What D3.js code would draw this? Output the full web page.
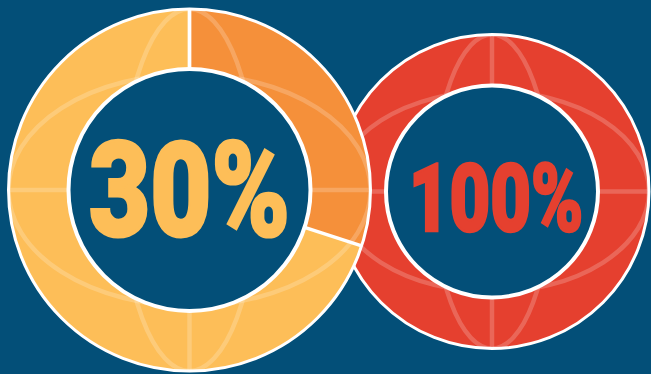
<!DOCTYPE html>
<html>
<head>
<meta charset="utf-8">
<script src="https://cdn.jsdelivr.net/npm/d3@7"></script>
<style>
  html, body { margin: 0; padding: 0; background: #034f78; }
  svg { display: block; }
</style>
</head>
<body>
<div id="chart-container"></div>
<script>
'use strict';

// data
const labels = ['30%', '100%'];
const shares = [30, 100];

// layout + style (right donut first so the left one sits on top)
const width = 651, height = 374;
const layout = [
  { cx: 189.5, cy: 190, outer: 181, inner: 121, textW: 197, cap: 100, base: 239, tx: 189.5, bold: 3.2 },
  { cx: 492, cy: 191.5, outer: 157, inner: 106, textW: 168, cap: 71, base: 233, tx: 496, bold: 2.6 }
];
const colours = [['#f5903a', '#fdbe58'], ['#e5402f', '#e5402f']];
const textColours = ['#fdbe58', '#e5402f'];
const fontFamily = 'Roboto, "DejaVu Sans", sans-serif';

var svg = d3.select('#chart-container')
  .append('svg')
  .attr('width', width)
  .attr('height', height);

svg.append('rect')
  .attr('width', width)
  .attr('height', height)
  .attr('fill', '#034f78');

var pie = d3.pie()
  .value(function(d) { return d; })
  .sort(null);

// measure real glyph extents at 100px
var ctx = document.createElement('canvas').getContext('2d');
ctx.font = '900 100px ' + fontFamily;

[1, 0].forEach(function(i) {
  const L = layout[i];
  const g = svg.append('g')
    .attr('transform', 'translate(' + L.cx + ',' + L.cy + ')');

  var arc = d3.arc()
    .innerRadius(L.inner)
    .outerRadius(L.outer);

  var slices = pie([shares[i], 100 - shares[i]]).filter(d => d.value > 0);

  g.selectAll('path.slice')
    .data(slices)
    .enter()
    .append('path')
    .attr('class', 'slice')
    .attr('d', arc)
    .attr('fill', (d, j) => colours[i][j]);

  // globe wireframe, clipped to the ring
  const clipId = 'ring' + i;
  g.append('clipPath')
    .attr('id', clipId)
    .append('path')
    .attr('d', d3.arc().innerRadius(L.inner).outerRadius(L.outer)({ startAngle: 0, endAngle: 2 * Math.PI }));

  const R = L.outer;
  const globe = g.append('g')
    .attr('clip-path', 'url(#' + clipId + ')')
    .attr('fill', 'none')
    .attr('stroke', '#fff')
    .attr('stroke-opacity', 0.2)
    .attr('stroke-width', 4.5);
  globe.append('line').attr('x1', 0).attr('x2', 0).attr('y1', -R).attr('y2', R);
  globe.append('line').attr('x1', -R).attr('x2', R).attr('y1', 0).attr('y2', 0);
  globe.append('ellipse').attr('rx', R * 0.37).attr('ry', R);
  globe.append('ellipse').attr('rx', R).attr('ry', R * 0.64);

  // slice separators
  if (slices.length > 1) {
    g.selectAll('line.sep')
      .data(slices)
      .enter()
      .append('line')
      .attr('class', 'sep')
      .attr('x1', d => Math.sin(d.startAngle) * L.inner)
      .attr('y1', d => -Math.cos(d.startAngle) * L.inner)
      .attr('x2', d => Math.sin(d.startAngle) * L.outer)
      .attr('y2', d => -Math.cos(d.startAngle) * L.outer)
      .attr('stroke', '#fff')
      .attr('stroke-width', 3.5);
  }

  g.append('circle')
    .attr('r', L.outer)
    .attr('fill', 'none')
    .attr('stroke', '#fff')
    .attr('stroke-width', 3);
  g.append('circle')
    .attr('r', L.inner)
    .attr('fill', '#034f78')
    .attr('stroke', '#fff')
    .attr('stroke-width', 4);

  // big condensed label, thickened with a stroke of its own colour
  const m = ctx.measureText(labels[i]);
  const glyphH = m.actualBoundingBoxAscent + m.actualBoundingBoxDescent;
  const glyphW = m.actualBoundingBoxLeft + m.actualBoundingBoxRight;
  const k = (L.cap - L.bold) / glyphH;
  const t = svg.append('text')
    .text(labels[i])
    .attr('font-family', fontFamily)
    .attr('font-weight', 900)
    .attr('font-size', 100 * k)
    .attr('fill', textColours[i])
    .attr('stroke', textColours[i])
    .attr('stroke-width', L.bold)
    .attr('stroke-linejoin', 'miter')
    .attr('text-anchor', 'middle');
  const sx = L.textW / (glyphW * k + L.bold);
  const yBase = L.base - L.bold / 2 - m.actualBoundingBoxDescent * k;
  t.attr('transform', 'translate(' + L.tx + ',' + yBase + ') scale(' + sx + ',1)');
});
</script>
</body>
</html>
